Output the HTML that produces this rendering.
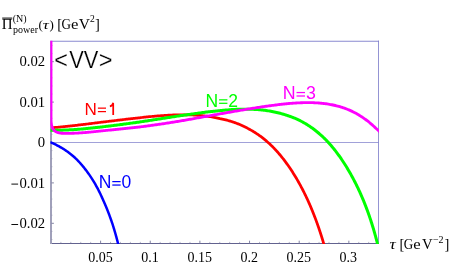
<!DOCTYPE html>
<html><head><meta charset="utf-8"><title>plot</title>
<style>
html,body{margin:0;padding:0;background:#fff;}
body{width:451px;height:279px;overflow:hidden;}
svg{display:block;will-change:transform;}
.serif{font-family:"Liberation Serif",serif;}
.sans{font-family:"Liberation Sans",sans-serif;}
</style></head><body>
<svg width="451" height="279" viewBox="0 0 451 279">
<defs><clipPath id="pc"><rect x="50.35" y="40.85" width="328.55" height="203.15"/></clipPath></defs>
<rect width="451" height="279" fill="#fff"/>
<g stroke="#7878c8" fill="none">
<line x1="50.0" y1="41.2" x2="378.9" y2="41.2" stroke="#8a8ad0" stroke-width="1.15"/>
<line x1="378.5" y1="40.6" x2="378.5" y2="243.9" stroke-width="0.8"/>
<line x1="51.5" y1="142.5" x2="378.5" y2="142.5" stroke-width="0.7"/>
<line x1="50.0" y1="243.5" x2="378.9" y2="243.5" stroke="#62628f" stroke-width="1.0"/>
</g>
<line x1="51" y1="41.3" x2="51" y2="244.0" stroke="#a0a0ba" stroke-width="2"/>
<g stroke="#77779a" stroke-width="0.9">
<line x1="100.60" y1="243.5" x2="100.60" y2="240.7"/>
<line x1="150.25" y1="243.5" x2="150.25" y2="240.7"/>
<line x1="199.90" y1="243.5" x2="199.90" y2="240.7"/>
<line x1="249.55" y1="243.5" x2="249.55" y2="240.7"/>
<line x1="299.20" y1="243.5" x2="299.20" y2="240.7"/>
<line x1="348.85" y1="243.5" x2="348.85" y2="240.7"/>
<line x1="60.88" y1="243.5" x2="60.88" y2="241.9" opacity="0.6"/>
<line x1="70.81" y1="243.5" x2="70.81" y2="241.9" opacity="0.6"/>
<line x1="80.74" y1="243.5" x2="80.74" y2="241.9" opacity="0.6"/>
<line x1="90.67" y1="243.5" x2="90.67" y2="241.9" opacity="0.6"/>
<line x1="110.53" y1="243.5" x2="110.53" y2="241.9" opacity="0.6"/>
<line x1="120.46" y1="243.5" x2="120.46" y2="241.9" opacity="0.6"/>
<line x1="130.39" y1="243.5" x2="130.39" y2="241.9" opacity="0.6"/>
<line x1="140.32" y1="243.5" x2="140.32" y2="241.9" opacity="0.6"/>
<line x1="160.18" y1="243.5" x2="160.18" y2="241.9" opacity="0.6"/>
<line x1="170.11" y1="243.5" x2="170.11" y2="241.9" opacity="0.6"/>
<line x1="180.04" y1="243.5" x2="180.04" y2="241.9" opacity="0.6"/>
<line x1="189.97" y1="243.5" x2="189.97" y2="241.9" opacity="0.6"/>
<line x1="209.83" y1="243.5" x2="209.83" y2="241.9" opacity="0.6"/>
<line x1="219.76" y1="243.5" x2="219.76" y2="241.9" opacity="0.6"/>
<line x1="229.69" y1="243.5" x2="229.69" y2="241.9" opacity="0.6"/>
<line x1="239.62" y1="243.5" x2="239.62" y2="241.9" opacity="0.6"/>
<line x1="259.48" y1="243.5" x2="259.48" y2="241.9" opacity="0.6"/>
<line x1="269.41" y1="243.5" x2="269.41" y2="241.9" opacity="0.6"/>
<line x1="279.34" y1="243.5" x2="279.34" y2="241.9" opacity="0.6"/>
<line x1="289.27" y1="243.5" x2="289.27" y2="241.9" opacity="0.6"/>
<line x1="309.13" y1="243.5" x2="309.13" y2="241.9" opacity="0.6"/>
<line x1="319.06" y1="243.5" x2="319.06" y2="241.9" opacity="0.6"/>
<line x1="328.99" y1="243.5" x2="328.99" y2="241.9" opacity="0.6"/>
<line x1="338.92" y1="243.5" x2="338.92" y2="241.9" opacity="0.6"/>
<line x1="358.78" y1="243.5" x2="358.78" y2="241.9" opacity="0.6"/>
<line x1="368.71" y1="243.5" x2="368.71" y2="241.9" opacity="0.6"/>
<line x1="51.5" y1="223.30" x2="53.9" y2="223.30"/>
<line x1="51.5" y1="182.90" x2="53.9" y2="182.90"/>
<line x1="51.5" y1="142.50" x2="53.9" y2="142.50"/>
<line x1="51.5" y1="102.10" x2="53.9" y2="102.10"/>
<line x1="51.5" y1="61.70" x2="53.9" y2="61.70"/>
<line x1="51.5" y1="239.46" x2="52.6" y2="239.46" opacity="0.4"/>
<line x1="51.5" y1="231.38" x2="52.6" y2="231.38" opacity="0.4"/>
<line x1="51.5" y1="215.22" x2="52.6" y2="215.22" opacity="0.4"/>
<line x1="51.5" y1="207.14" x2="52.6" y2="207.14" opacity="0.4"/>
<line x1="51.5" y1="199.06" x2="52.6" y2="199.06" opacity="0.4"/>
<line x1="51.5" y1="190.98" x2="52.6" y2="190.98" opacity="0.4"/>
<line x1="51.5" y1="174.82" x2="52.6" y2="174.82" opacity="0.4"/>
<line x1="51.5" y1="166.74" x2="52.6" y2="166.74" opacity="0.4"/>
<line x1="51.5" y1="158.66" x2="52.6" y2="158.66" opacity="0.4"/>
<line x1="51.5" y1="150.58" x2="52.6" y2="150.58" opacity="0.4"/>
<line x1="51.5" y1="134.42" x2="52.6" y2="134.42" opacity="0.4"/>
<line x1="51.5" y1="126.34" x2="52.6" y2="126.34" opacity="0.4"/>
<line x1="51.5" y1="118.26" x2="52.6" y2="118.26" opacity="0.4"/>
<line x1="51.5" y1="110.18" x2="52.6" y2="110.18" opacity="0.4"/>
<line x1="51.5" y1="94.02" x2="52.6" y2="94.02" opacity="0.4"/>
<line x1="51.5" y1="85.94" x2="52.6" y2="85.94" opacity="0.4"/>
<line x1="51.5" y1="77.86" x2="52.6" y2="77.86" opacity="0.4"/>
<line x1="51.5" y1="69.78" x2="52.6" y2="69.78" opacity="0.4"/>
<line x1="51.5" y1="53.62" x2="52.6" y2="53.62" opacity="0.4"/>
<line x1="51.5" y1="45.54" x2="52.6" y2="45.54" opacity="0.4"/>
</g>
<g fill="none" stroke-width="3.0" stroke-linejoin="round" stroke-linecap="butt" clip-path="url(#pc)">
<path d="M50.16,142.19 L51.33,142.67 L52.49,143.16 L53.63,143.67 L54.76,144.20 L55.88,144.74 L56.98,145.29 L58.07,145.86 L59.15,146.44 L60.21,147.04 L61.27,147.65 L62.31,148.28 L63.33,148.91 L64.35,149.56 L65.35,150.23 L66.35,150.90 L67.33,151.59 L68.29,152.30 L69.25,153.01 L70.19,153.74 L71.13,154.48 L72.05,155.23 L72.96,155.99 L73.85,156.76 L74.72,157.55 L75.57,158.34 L76.40,159.15 L77.22,159.97 L78.03,160.80 L78.83,161.64 L79.62,162.49 L80.40,163.35 L81.17,164.22 L81.92,165.10 L82.67,165.99 L83.40,166.88 L84.13,167.79 L84.84,168.71 L85.54,169.63 L86.26,170.57 L86.97,171.51 L87.68,172.46 L88.37,173.42 L89.06,174.39 L89.74,175.37 L90.40,176.35 L91.06,177.34 L91.71,178.34 L92.35,179.34 L92.98,180.36 L93.61,181.38 L94.22,182.40 L94.83,183.43 L95.42,184.47 L96.01,185.52 L96.59,186.57 L97.16,187.62 L97.73,188.69 L98.28,189.75 L98.83,190.83 L99.37,191.90 L99.90,192.99 L100.42,194.08 L100.94,195.17 L101.45,196.26 L101.95,197.36 L102.44,198.47 L102.93,199.58 L103.43,200.69 L103.93,201.81 L104.43,202.93 L104.92,204.05 L105.40,205.17 L105.88,206.30 L106.35,207.43 L106.81,208.57 L107.27,209.70 L107.72,210.84 L108.16,211.98 L108.60,213.12 L109.03,214.26 L109.46,215.41 L109.88,216.56 L110.30,217.70 L110.71,218.85 L111.11,220.00 L111.51,221.15 L111.90,222.30 L112.29,223.45 L112.68,224.60 L113.04,225.75 L113.40,226.90 L113.75,228.05 L114.10,229.19 L114.44,230.34 L114.77,231.49 L115.11,232.63 L115.43,233.78 L115.76,234.92 L116.08,236.06 L116.39,237.20 L116.70,238.34 L117.01,239.47 L117.31,240.60 L117.60,241.73 L117.89,242.86 L118.18,243.98 L118.46,245.11 L118.74,246.22 L119.01,247.34 L119.03,247.43" stroke="#0000ff" stroke-width="2.5"/>
<path d="M51.48,127.82 L52.68,127.71 L53.89,127.60 L55.09,127.49 L56.29,127.38 L57.49,127.26 L58.69,127.15 L59.89,127.03 L61.09,126.91 L62.29,126.79 L63.48,126.67 L64.68,126.55 L65.88,126.43 L67.07,126.30 L68.26,126.18 L69.46,126.05 L70.65,125.92 L71.84,125.79 L73.04,125.66 L74.23,125.53 L75.42,125.39 L76.61,125.26 L77.80,125.12 L78.99,124.99 L80.18,124.85 L81.37,124.71 L82.56,124.57 L83.75,124.43 L84.93,124.29 L86.12,124.14 L87.31,124.00 L88.50,123.85 L89.68,123.71 L90.87,123.56 L92.05,123.41 L93.24,123.26 L94.43,123.11 L95.61,122.96 L96.80,122.81 L97.98,122.66 L99.17,122.51 L100.35,122.36 L101.54,122.22 L102.72,122.08 L103.91,121.93 L105.09,121.79 L106.27,121.65 L107.46,121.50 L108.64,121.36 L109.83,121.22 L111.01,121.07 L112.20,120.93 L113.38,120.78 L114.57,120.64 L115.75,120.49 L116.94,120.35 L118.12,120.21 L119.31,120.06 L120.49,119.92 L121.68,119.78 L122.87,119.64 L124.05,119.49 L125.24,119.35 L126.43,119.21 L127.61,119.08 L128.80,118.94 L129.99,118.80 L131.18,118.67 L132.37,118.54 L133.55,118.40 L134.74,118.27 L135.93,118.15 L137.12,118.02 L138.31,117.89 L139.51,117.77 L140.70,117.64 L141.89,117.50 L143.08,117.37 L144.28,117.24 L145.47,117.11 L146.66,116.98 L147.86,116.86 L149.06,116.74 L150.25,116.62 L151.45,116.50 L152.65,116.39 L153.84,116.28 L155.04,116.17 L156.24,116.07 L157.44,115.97 L158.65,115.87 L159.85,115.77 L161.05,115.68 L162.25,115.60 L163.46,115.51 L164.67,115.43 L165.87,115.35 L167.08,115.28 L168.29,115.21 L169.50,115.15 L170.71,115.09 L171.92,115.03 L173.13,114.98 L174.34,114.93 L175.55,114.89 L176.77,114.85 L177.98,114.82 L179.20,114.79 L180.41,114.77 L181.63,114.76 L182.84,114.76 L184.05,114.77 L185.27,114.78 L186.48,114.80 L187.70,114.82 L188.91,114.85 L190.12,114.89 L191.33,114.93 L192.55,114.98 L193.76,115.04 L194.97,115.11 L196.17,115.18 L197.38,115.26 L198.59,115.35 L199.79,115.45 L200.99,115.56 L202.20,115.67 L203.40,115.80 L204.59,115.93 L205.79,116.07 L206.98,116.23 L208.18,116.39 L209.37,116.56 L210.55,116.74 L211.74,116.93 L212.92,117.13 L214.10,117.34 L215.28,117.56 L216.45,117.79 L217.63,118.04 L218.79,118.29 L219.96,118.56 L221.12,118.80 L222.28,119.05 L223.44,119.31 L224.59,119.59 L225.74,119.88 L226.89,120.18 L228.03,120.49 L229.17,120.81 L230.30,121.15 L231.43,121.50 L232.56,121.86 L233.68,122.23 L234.79,122.62 L235.90,123.03 L237.01,123.46 L238.11,123.90 L239.21,124.35 L240.30,124.81 L241.38,125.29 L242.46,125.78 L243.53,126.28 L244.60,126.79 L245.66,127.31 L246.72,127.84 L247.77,128.39 L248.81,128.95 L249.84,129.52 L250.87,130.09 L251.89,130.68 L252.91,131.27 L253.91,131.88 L254.91,132.50 L255.90,133.13 L256.89,133.78 L257.86,134.43 L258.83,135.10 L259.79,135.78 L260.74,136.46 L261.69,137.16 L262.62,137.88 L263.55,138.62 L264.47,139.37 L265.38,140.13 L266.28,140.90 L267.18,141.67 L268.06,142.46 L268.94,143.26 L269.81,144.07 L270.68,144.88 L271.53,145.71 L272.38,146.54 L273.22,147.39 L274.06,148.24 L274.88,149.10 L275.70,149.98 L276.51,150.87 L277.32,151.76 L278.11,152.67 L278.90,153.58 L279.68,154.50 L280.46,155.43 L281.22,156.36 L281.98,157.30 L282.74,158.25 L283.48,159.20 L284.22,160.17 L284.95,161.13 L285.68,162.11 L286.40,163.09 L287.11,164.07 L287.81,165.06 L288.51,166.06 L289.20,167.06 L289.89,168.07 L290.57,169.08 L291.24,170.09 L291.90,171.10 L292.56,172.12 L293.21,173.14 L293.86,174.17 L294.50,175.20 L295.13,176.24 L295.76,177.28 L296.38,178.32 L297.00,179.37 L297.60,180.42 L298.21,181.47 L298.80,182.53 L299.39,183.59 L299.98,184.65 L300.56,185.71 L301.13,186.78 L301.70,187.85 L302.26,188.92 L302.82,190.00 L303.37,191.08 L303.91,192.16 L304.45,193.24 L304.98,194.32 L305.51,195.41 L306.03,196.50 L306.55,197.59 L307.06,198.68 L307.57,199.77 L308.07,200.87 L308.57,201.97 L309.06,203.07 L309.54,204.17 L310.02,205.27 L310.50,206.38 L310.97,207.48 L311.44,208.59 L311.90,209.70 L312.35,210.81 L312.80,211.92 L313.25,213.04 L313.69,214.15 L314.13,215.27 L314.56,216.38 L314.99,217.50 L315.41,218.62 L315.83,219.74 L316.24,220.86 L316.65,221.99 L317.06,223.11 L317.46,224.23 L317.86,225.36 L318.25,226.48 L318.64,227.61 L319.02,228.74 L319.40,229.86 L319.78,230.99 L320.15,232.12 L320.52,233.25 L320.88,234.38 L321.24,235.51 L321.60,236.64 L321.95,237.77 L322.30,238.90 L322.65,240.03 L322.99,241.16 L323.33,242.29 L323.66,243.42 L323.99,244.55 L324.32,245.68 L324.64,246.81 L324.82,247.44" stroke="#ff0000" stroke-width="2.75"/>
<path d="M50.22,130.16 L51.43,130.19 L52.65,130.20 L53.86,130.21 L55.08,130.22 L56.29,130.22 L57.50,130.21 L58.71,130.20 L59.92,130.18 L61.13,130.16 L62.34,130.13 L63.54,130.09 L64.75,130.05 L65.95,130.01 L67.16,129.96 L68.36,129.90 L69.57,129.85 L70.77,129.78 L71.97,129.71 L73.17,129.64 L74.37,129.56 L75.57,129.48 L76.76,129.40 L77.96,129.31 L79.16,129.22 L80.35,129.12 L81.55,129.02 L82.74,128.92 L83.94,128.81 L85.13,128.70 L86.32,128.59 L87.52,128.48 L88.71,128.36 L89.90,128.24 L91.09,128.11 L92.28,127.99 L93.47,127.86 L94.66,127.73 L95.85,127.59 L97.04,127.46 L98.22,127.32 L99.41,127.18 L100.60,127.05 L101.78,126.91 L102.97,126.77 L104.15,126.63 L105.34,126.49 L106.52,126.35 L107.71,126.21 L108.89,126.07 L110.08,125.92 L111.26,125.78 L112.44,125.63 L113.63,125.48 L114.81,125.33 L115.99,125.18 L117.17,125.03 L118.35,124.88 L119.54,124.73 L120.72,124.57 L121.90,124.42 L123.08,124.26 L124.26,124.10 L125.44,123.95 L126.62,123.79 L127.80,123.63 L128.99,123.47 L130.17,123.31 L131.35,123.14 L132.53,122.98 L133.71,122.82 L134.89,122.65 L136.07,122.49 L137.25,122.32 L138.43,122.16 L139.61,121.99 L140.79,121.81 L141.97,121.64 L143.15,121.46 L144.34,121.28 L145.52,121.10 L146.70,120.91 L147.88,120.73 L149.06,120.55 L150.24,120.37 L151.43,120.19 L152.61,120.00 L153.79,119.82 L154.97,119.64 L156.16,119.45 L157.34,119.27 L158.52,119.08 L159.71,118.90 L160.89,118.71 L162.08,118.53 L163.26,118.34 L164.45,118.16 L165.63,117.97 L166.82,117.79 L168.01,117.60 L169.19,117.42 L170.38,117.23 L171.57,117.04 L172.76,116.86 L173.95,116.67 L175.14,116.49 L176.33,116.30 L177.52,116.12 L178.71,115.93 L179.90,115.75 L181.09,115.57 L182.28,115.40 L183.48,115.23 L184.67,115.06 L185.87,114.89 L187.06,114.72 L188.26,114.55 L189.45,114.38 L190.65,114.21 L191.85,114.04 L193.05,113.87 L194.25,113.71 L195.45,113.54 L196.65,113.38 L197.85,113.21 L199.05,113.05 L200.25,112.89 L201.45,112.73 L202.66,112.57 L203.86,112.42 L205.06,112.26 L206.27,112.11 L207.47,111.97 L208.67,111.82 L209.88,111.68 L211.08,111.54 L212.29,111.40 L213.49,111.27 L214.70,111.14 L215.90,111.02 L217.11,110.89 L218.31,110.78 L219.52,110.66 L220.72,110.54 L221.93,110.42 L223.13,110.30 L224.33,110.19 L225.54,110.08 L226.74,109.98 L227.95,109.88 L229.15,109.79 L230.35,109.70 L231.55,109.62 L232.76,109.55 L233.96,109.48 L235.16,109.42 L236.36,109.36 L237.56,109.31 L238.76,109.27 L239.96,109.23 L241.16,109.20 L242.35,109.18 L243.55,109.16 L244.75,109.16 L245.94,109.16 L247.14,109.16 L248.33,109.18 L249.52,109.20 L250.72,109.23 L251.91,109.27 L253.10,109.32 L254.29,109.38 L255.47,109.45 L256.66,109.52 L257.85,109.61 L259.03,109.70 L260.22,109.81 L261.40,109.93 L262.58,110.06 L263.76,110.20 L264.94,110.35 L266.12,110.51 L267.29,110.69 L268.47,110.87 L269.64,111.06 L270.81,111.27 L271.98,111.48 L273.15,111.71 L274.32,111.95 L275.48,112.20 L276.64,112.46 L277.80,112.73 L278.96,113.02 L280.11,113.31 L281.26,113.62 L282.41,113.94 L283.55,114.28 L284.69,114.63 L285.82,114.99 L286.95,115.36 L288.08,115.73 L289.20,116.11 L290.31,116.51 L291.42,116.91 L292.53,117.34 L293.63,117.77 L294.72,118.23 L295.81,118.69 L296.89,119.17 L297.96,119.67 L299.03,120.18 L300.09,120.70 L301.14,121.24 L302.19,121.80 L303.22,122.36 L304.26,122.95 L305.28,123.54 L306.30,124.15 L307.31,124.77 L308.31,125.41 L309.30,126.06 L310.29,126.72 L311.27,127.40 L312.24,128.09 L313.20,128.80 L314.16,129.51 L315.10,130.24 L316.04,130.98 L316.97,131.73 L317.89,132.49 L318.81,133.26 L319.71,134.04 L320.61,134.83 L321.50,135.63 L322.38,136.45 L323.25,137.27 L324.11,138.10 L324.97,138.94 L325.81,139.79 L326.65,140.65 L327.47,141.52 L328.29,142.39 L329.10,143.28 L329.90,144.17 L330.69,145.07 L331.48,145.99 L332.26,146.91 L333.02,147.84 L333.79,148.78 L334.54,149.72 L335.28,150.67 L336.02,151.62 L336.75,152.59 L337.47,153.55 L338.19,154.53 L338.90,155.50 L339.60,156.49 L340.29,157.48 L340.98,158.47 L341.66,159.47 L342.34,160.47 L343.00,161.47 L343.66,162.48 L344.32,163.50 L344.97,164.51 L345.61,165.53 L346.25,166.56 L346.87,167.58 L347.50,168.61 L348.12,169.65 L348.73,170.68 L349.33,171.72 L349.93,172.76 L350.53,173.81 L351.12,174.86 L351.70,175.91 L352.27,176.96 L352.85,178.02 L353.41,179.08 L353.97,180.14 L354.52,181.20 L355.07,182.27 L355.61,183.34 L356.15,184.41 L356.68,185.49 L357.21,186.57 L357.73,187.65 L358.24,188.73 L358.75,189.82 L359.26,190.90 L359.76,191.99 L360.25,193.09 L360.74,194.18 L361.22,195.28 L361.70,196.38 L362.17,197.48 L362.64,198.58 L363.10,199.69 L363.56,200.79 L364.01,201.90 L364.46,203.01 L364.90,204.13 L365.34,205.24 L365.78,206.36 L366.20,207.48 L366.63,208.60 L367.05,209.72 L367.46,210.85 L367.87,211.97 L368.27,213.10 L368.67,214.23 L369.07,215.36 L369.46,216.49 L369.85,217.63 L370.23,218.76 L370.61,219.90 L370.98,221.04 L371.35,222.18 L371.71,223.32 L372.08,224.46 L372.43,225.60 L372.78,226.75 L373.13,227.89 L373.47,229.04 L373.81,230.19 L374.15,231.34 L374.48,232.49 L374.81,233.64 L375.13,234.79 L375.45,235.94 L375.77,237.10 L376.08,238.25 L376.39,239.40 L376.69,240.56 L376.99,241.72 L377.29,242.88 L377.58,244.03 L377.87,245.19 L378.15,246.35 L378.44,247.51 L378.44,247.52" stroke="#00ff00"/>
<path d="M51.0,40 L51.0,119 C51.1,128.3 53.3,132.4 60.52,133.18 L61.73,133.24 L62.93,133.28 L64.14,133.31 L65.35,133.34 L66.55,133.35 L67.76,133.35 L68.96,133.35 L70.17,133.33 L71.37,133.31 L72.58,133.28 L73.78,133.24 L74.98,133.19 L76.18,133.14 L77.39,133.08 L78.59,133.01 L79.79,132.94 L80.99,132.86 L82.19,132.77 L83.39,132.68 L84.59,132.59 L85.79,132.49 L86.99,132.39 L88.18,132.28 L89.38,132.17 L90.58,132.05 L91.78,131.94 L92.97,131.82 L94.17,131.69 L95.37,131.57 L96.56,131.45 L97.76,131.32 L98.95,131.19 L100.15,131.06 L101.34,130.94 L102.53,130.81 L103.73,130.69 L104.92,130.57 L106.11,130.44 L107.31,130.32 L108.50,130.20 L109.69,130.08 L110.88,129.96 L112.08,129.83 L113.27,129.71 L114.46,129.59 L115.65,129.47 L116.84,129.35 L118.03,129.23 L119.22,129.11 L120.41,128.99 L121.60,128.87 L122.79,128.75 L123.98,128.62 L125.16,128.50 L126.35,128.38 L127.54,128.26 L128.73,128.13 L129.92,128.01 L131.10,127.88 L132.29,127.76 L133.48,127.63 L134.67,127.50 L135.85,127.37 L137.04,127.24 L138.22,127.11 L139.41,126.98 L140.60,126.84 L141.78,126.69 L142.97,126.54 L144.15,126.39 L145.34,126.23 L146.52,126.08 L147.71,125.92 L148.89,125.76 L150.08,125.60 L151.26,125.43 L152.45,125.27 L153.63,125.10 L154.82,124.94 L156.00,124.77 L157.18,124.60 L158.37,124.42 L159.55,124.25 L160.73,124.07 L161.92,123.90 L163.10,123.72 L164.28,123.54 L165.47,123.36 L166.65,123.18 L167.83,122.99 L169.02,122.81 L170.20,122.62 L171.38,122.44 L172.57,122.25 L173.75,122.06 L174.93,121.87 L176.11,121.68 L177.30,121.48 L178.48,121.29 L179.66,121.10 L180.84,120.90 L182.03,120.69 L183.21,120.49 L184.39,120.28 L185.57,120.07 L186.76,119.87 L187.94,119.66 L189.12,119.45 L190.30,119.24 L191.49,119.03 L192.67,118.82 L193.85,118.61 L195.04,118.40 L196.22,118.18 L197.40,117.97 L198.58,117.76 L199.77,117.55 L200.95,117.33 L202.13,117.12 L203.32,116.90 L204.50,116.69 L205.68,116.48 L206.87,116.26 L208.05,116.05 L209.23,115.83 L210.42,115.62 L211.60,115.41 L212.78,115.19 L213.97,114.98 L215.15,114.76 L216.33,114.55 L217.52,114.34 L218.70,114.12 L219.89,113.91 L221.07,113.70 L222.26,113.49 L223.44,113.28 L224.63,113.07 L225.81,112.86 L227.00,112.65 L228.18,112.44 L229.37,112.23 L230.55,112.02 L231.74,111.82 L232.93,111.61 L234.11,111.40 L235.30,111.20 L236.49,111.00 L237.67,110.79 L238.86,110.59 L240.05,110.39 L241.24,110.19 L242.42,109.99 L243.61,109.79 L244.80,109.59 L245.99,109.39 L247.18,109.20 L248.37,109.00 L249.56,108.81 L250.75,108.62 L251.94,108.43 L253.13,108.24 L254.32,108.05 L255.51,107.86 L256.70,107.68 L257.89,107.49 L259.08,107.31 L260.27,107.13 L261.46,106.95 L262.66,106.78 L263.85,106.60 L265.04,106.43 L266.23,106.26 L267.43,106.10 L268.62,105.93 L269.82,105.77 L271.01,105.60 L272.21,105.44 L273.40,105.29 L274.60,105.13 L275.79,104.98 L276.99,104.83 L278.18,104.68 L279.38,104.53 L280.58,104.39 L281.77,104.26 L282.97,104.12 L284.17,104.00 L285.36,103.87 L286.56,103.75 L287.76,103.64 L288.96,103.53 L290.15,103.42 L291.35,103.33 L292.55,103.23 L293.74,103.15 L294.94,103.07 L296.14,102.99 L297.33,102.93 L298.53,102.87 L299.73,102.81 L300.92,102.76 L302.12,102.72 L303.31,102.68 L304.51,102.65 L305.70,102.63 L306.90,102.62 L308.09,102.62 L309.29,102.62 L310.48,102.64 L311.67,102.66 L312.87,102.70 L314.06,102.74 L315.25,102.80 L316.44,102.86 L317.64,102.94 L318.83,103.02 L320.02,103.12 L321.20,103.23 L322.39,103.35 L323.58,103.48 L324.76,103.63 L325.94,103.78 L327.12,103.95 L328.30,104.13 L329.48,104.33 L330.65,104.53 L331.82,104.76 L332.99,104.99 L334.15,105.24 L335.31,105.50 L336.47,105.78 L337.62,106.07 L338.77,106.38 L339.91,106.70 L341.05,107.04 L342.19,107.41 L343.32,107.78 L344.44,108.18 L345.56,108.59 L346.68,109.01 L347.79,109.46 L348.89,109.92 L349.99,110.39 L351.08,110.89 L352.16,111.40 L353.24,111.93 L354.31,112.47 L355.37,113.03 L356.43,113.61 L357.48,114.20 L358.52,114.81 L359.56,115.43 L360.58,116.08 L361.60,116.73 L362.61,117.40 L363.62,118.09 L364.61,118.79 L365.60,119.51 L366.58,120.24 L367.55,120.98 L368.51,121.74 L369.46,122.51 L370.40,123.30 L371.33,124.10 L372.25,124.91 L373.17,125.73 L374.07,126.55 L374.96,127.37 L375.84,128.18 L376.72,128.99 L377.58,129.79 L378.43,130.58 L379.27,131.35 L380.10,132.10 L380.92,132.83 L381.73,133.54 L381.74,133.55" stroke="#ff00ff" stroke-width="2.85"/>
</g>
<g class="serif" font-family="'Liberation Serif',serif" font-size="14.7" fill="#000">
<text x="100.55" y="261.5" font-size="14.0" text-anchor="middle">0.05</text>
<text x="150.09" y="261.5" font-size="14.0" text-anchor="middle">0.1</text>
<text x="199.64" y="261.5" font-size="14.0" text-anchor="middle">0.15</text>
<text x="249.18" y="261.5" font-size="14.0" text-anchor="middle">0.2</text>
<text x="298.73" y="261.5" font-size="14.0" text-anchor="middle">0.25</text>
<text x="348.27" y="261.5" font-size="14.0" text-anchor="middle">0.3</text>
<text x="45.1" y="228.45" text-anchor="end">0.02</text>
<line x1="11.4" y1="224.50" x2="18.1" y2="224.50" stroke="#000" stroke-width="0.95"/>
<text x="45.1" y="188.20" text-anchor="end">0.01</text>
<line x1="11.4" y1="184.10" x2="18.1" y2="184.10" stroke="#000" stroke-width="0.95"/>
<text x="45.1" y="147.15" text-anchor="end">0</text>
<text x="45.1" y="107.10" text-anchor="end">0.01</text>
<text x="45.1" y="65.90" text-anchor="end">0.02</text>
</g>
<g class="sans" font-family="'Liberation Sans',sans-serif">
<text x="84.6" y="114.9" font-size="17.1" fill="#ff0000">N</text>
<line x1="97.89" y1="108.15" x2="106.01" y2="108.15" stroke="#ff0000" stroke-width="1.25"/>
<line x1="97.89" y1="111.60" x2="106.01" y2="111.60" stroke="#ff0000" stroke-width="1.25"/>
<path d="M113.21,114.9 L113.21,103.40 M109.86,106.30 C111.76,105.90 112.86,104.60 113.26,102.70" stroke="#ff0000" stroke-width="1.75" fill="none"/>
<text x="205.5" y="106.6" font-size="17.5" fill="#00ff00">N</text>
<line x1="219.10" y1="99.85" x2="227.41" y2="99.85" stroke="#00ff00" stroke-width="1.25"/>
<line x1="219.10" y1="103.30" x2="227.41" y2="103.30" stroke="#00ff00" stroke-width="1.25"/>
<text x="228.35" y="106.6" font-size="17.5" fill="#00ff00">2</text>
<text x="282.7" y="99.3" font-size="17.8" fill="#ff00ff">N</text>
<line x1="296.53" y1="92.55" x2="304.99" y2="92.55" stroke="#ff00ff" stroke-width="1.25"/>
<line x1="296.53" y1="96.00" x2="304.99" y2="96.00" stroke="#ff00ff" stroke-width="1.25"/>
<text x="305.95" y="99.3" font-size="17.8" fill="#ff00ff">3</text>
<text x="98.7" y="187.5" font-size="17.5" fill="#0000ff">N</text>
<line x1="112.30" y1="181.60" x2="120.61" y2="181.60" stroke="#0000ff" stroke-width="1.25"/>
<line x1="112.30" y1="185.05" x2="120.61" y2="185.05" stroke="#0000ff" stroke-width="1.25"/>
<text x="121.56" y="187.5" font-size="17.5" fill="#0000ff">0</text>
</g>
<g class="sans" font-family="'Liberation Sans',sans-serif" font-size="23.5" fill="#000" stroke="#fff" stroke-width="0.2">
<text x="54.2" y="67.6">&lt;</text>
<text transform="translate(69.3,67.6) scale(0.93,1)">VV</text>
<text x="98.8" y="67.6">&gt;</text>
</g>
<g class="serif" font-family="'Liberation Serif',serif" font-size="15" fill="#000">
<text transform="translate(1.77,28.9) scale(1.0,1)" font-size="15">&#928;</text>
<line x1="2.2" y1="18.1" x2="12.3" y2="18.1" stroke="#000" stroke-width="1.0"/>
<text transform="translate(12.66,21.6) scale(0.985,1)" font-size="10.2">(N)</text>
<text x="13" y="32.6" font-size="10">power</text>
<text transform="translate(38.53,28.5) scale(1.0,1)" font-size="13">(</text>
<text transform="translate(42.83,28.8) scale(1.3,1)" font-size="13" font-style="italic">&#964;</text>
<text transform="translate(49.48,28.5) scale(1.0,1)" font-size="13">)</text>
<text transform="translate(57.23,28.8) scale(1.0,1)" font-size="14.5">[</text>
<text transform="translate(61.56,28.8) scale(0.9,1)" font-size="14.5">G</text>
<text transform="translate(71.05,28.8) scale(1.15,1)" font-size="14.5">e</text>
<text transform="translate(78.73,28.8) scale(1.07,1)" font-size="14.5">V</text>
<text transform="translate(89.98,21.8) scale(1.0,1)" font-size="9.6">2</text>
<text transform="translate(94.98,28.6) scale(1.0,1)" font-size="14.5">]</text>
<text transform="translate(389.51,248.6) scale(1.25,1)" font-size="14" font-style="italic">&#964;</text>
<text transform="translate(399.43,248.6) scale(1.0,1)" font-size="14.5">[</text>
<text transform="translate(403.66,248.6) scale(0.9,1)" font-size="14.5">G</text>
<text transform="translate(413.15,248.6) scale(1.15,1)" font-size="14.5">e</text>
<text transform="translate(422.04,248.6) scale(1.02,1)" font-size="14.5">V</text>
<text transform="translate(432.90,242.6) scale(1.0,1)" font-size="10">&#8722;2</text>
<text transform="translate(444.38,248.6) scale(1.0,1)" font-size="14.5">]</text>
</g>
</svg>
</body></html>
